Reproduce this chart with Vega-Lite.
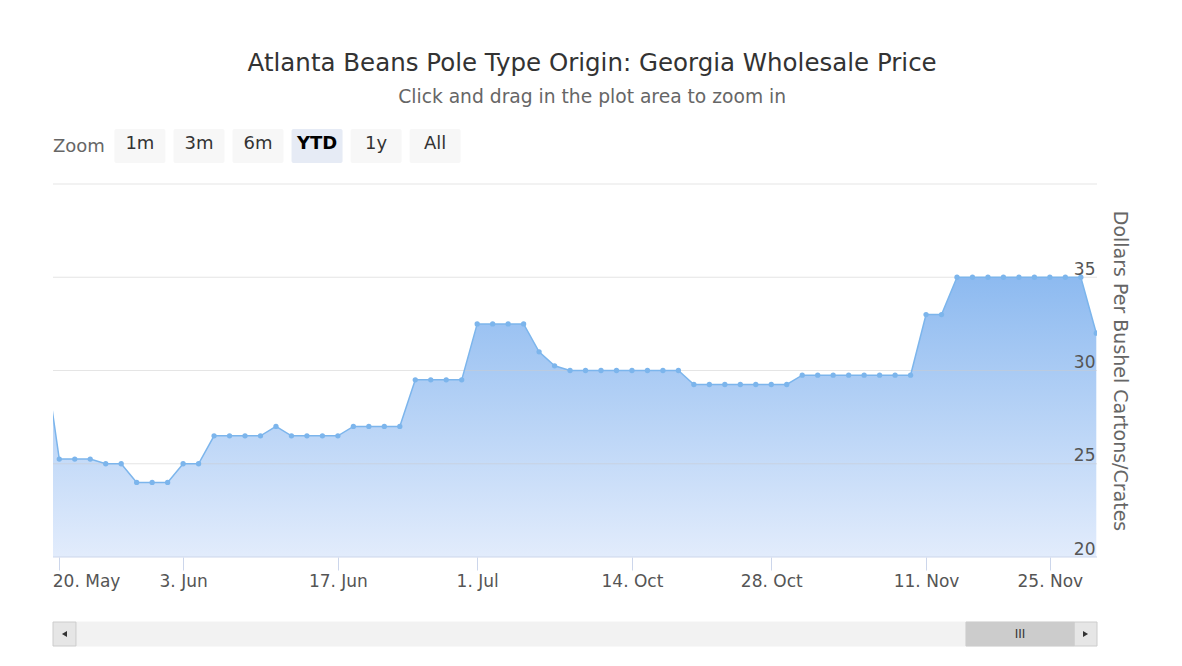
{
  "$schema": "https://vega.github.io/schema/vega-lite/v6.json",
  "background": "white",
  "padding": {"left": 52, "top": 50, "right": 50, "bottom": 18},
  "title": {
    "text": "Atlanta Beans Pole Type Origin: Georgia Wholesale Price",
    "subtitle": "Click and drag in the plot area to zoom in",
    "anchor": "middle",
    "dx": 2,
    "font": "DejaVu Sans",
    "fontSize": 24.5,
    "fontWeight": "normal",
    "color": "#333333",
    "subtitleFont": "DejaVu Sans",
    "subtitleFontSize": 18.7,
    "subtitleColor": "#666666",
    "subtitlePadding": 12,
    "offset": 21
  },
  "config": {"view": {"stroke": null}, "font": "DejaVu Sans"},
  "datasets": {
    "prices": [
      {"date": "2019-05-17", "price": 31},
      {"date": "2019-05-20", "price": 25.25},
      {"date": "2019-05-21", "price": 25.25},
      {"date": "2019-05-22", "price": 25.25},
      {"date": "2019-05-23", "price": 25},
      {"date": "2019-05-24", "price": 25},
      {"date": "2019-05-28", "price": 24},
      {"date": "2019-05-29", "price": 24},
      {"date": "2019-05-31", "price": 24},
      {"date": "2019-06-03", "price": 25},
      {"date": "2019-06-04", "price": 25},
      {"date": "2019-06-05", "price": 26.5},
      {"date": "2019-06-06", "price": 26.5},
      {"date": "2019-06-07", "price": 26.5},
      {"date": "2019-06-10", "price": 26.5},
      {"date": "2019-06-11", "price": 27},
      {"date": "2019-06-12", "price": 26.5},
      {"date": "2019-06-13", "price": 26.5},
      {"date": "2019-06-14", "price": 26.5},
      {"date": "2019-06-17", "price": 26.5},
      {"date": "2019-06-18", "price": 27},
      {"date": "2019-06-19", "price": 27},
      {"date": "2019-06-20", "price": 27},
      {"date": "2019-06-21", "price": 27},
      {"date": "2019-06-24", "price": 29.5},
      {"date": "2019-06-25", "price": 29.5},
      {"date": "2019-06-26", "price": 29.5},
      {"date": "2019-06-28", "price": 29.5},
      {"date": "2019-07-01", "price": 32.5},
      {"date": "2019-07-02", "price": 32.5},
      {"date": "2019-07-03", "price": 32.5},
      {"date": "2019-07-05", "price": 32.5},
      {"date": "2019-10-04", "price": 31},
      {"date": "2019-10-07", "price": 30.25},
      {"date": "2019-10-08", "price": 30},
      {"date": "2019-10-09", "price": 30},
      {"date": "2019-10-10", "price": 30},
      {"date": "2019-10-11", "price": 30},
      {"date": "2019-10-14", "price": 30},
      {"date": "2019-10-16", "price": 30},
      {"date": "2019-10-17", "price": 30},
      {"date": "2019-10-18", "price": 30},
      {"date": "2019-10-21", "price": 29.25},
      {"date": "2019-10-22", "price": 29.25},
      {"date": "2019-10-23", "price": 29.25},
      {"date": "2019-10-24", "price": 29.25},
      {"date": "2019-10-25", "price": 29.25},
      {"date": "2019-10-28", "price": 29.25},
      {"date": "2019-10-29", "price": 29.25},
      {"date": "2019-10-30", "price": 29.75},
      {"date": "2019-10-31", "price": 29.75},
      {"date": "2019-11-01", "price": 29.75},
      {"date": "2019-11-04", "price": 29.75},
      {"date": "2019-11-05", "price": 29.75},
      {"date": "2019-11-06", "price": 29.75},
      {"date": "2019-11-07", "price": 29.75},
      {"date": "2019-11-08", "price": 29.75},
      {"date": "2019-11-11", "price": 33},
      {"date": "2019-11-12", "price": 33},
      {"date": "2019-11-13", "price": 35},
      {"date": "2019-11-14", "price": 35},
      {"date": "2019-11-15", "price": 35},
      {"date": "2019-11-18", "price": 35},
      {"date": "2019-11-19", "price": 35},
      {"date": "2019-11-20", "price": 35},
      {"date": "2019-11-25", "price": 35},
      {"date": "2019-11-26", "price": 35},
      {"date": "2019-11-27", "price": 35},
      {"date": "2019-11-29", "price": 32}
    ],
    "gridlines": [
      {"level": 20},
      {"level": 25},
      {"level": 30},
      {"level": 35},
      {"level": 40}
    ],
    "buttons": [
      {"label": "Zoom", "kind": "caption"},
      {"label": "1m", "kind": "button"},
      {"label": "3m", "kind": "button"},
      {"label": "6m", "kind": "button"},
      {"label": "YTD", "kind": "selected"},
      {"label": "1y", "kind": "button"},
      {"label": "All", "kind": "button"}
    ],
    "scrollbar": [
      {"part": "track", "from": 0.022, "to": 0.978, "glyph": ""},
      {"part": "left", "from": 0, "to": 0.022, "glyph": ""},
      {"part": "right", "from": 0.978, "to": 1, "glyph": ""},
      {"part": "thumb", "from": 0.8745, "to": 0.978, "glyph": "III"}
    ]
  },
  "spacing": 21,
  "bounds": "flush",
  "vconcat": [
    {
      "width": 410,
      "height": 34,
      "data": {"name": "buttons"},
      "encoding": {
        "x": {"field": "label", "type": "nominal", "sort": null,
              "scale": {"type": "band", "domain": ["Zoom", "1m", "3m", "6m", "YTD", "1y", "All"], "paddingInner": 0.136, "paddingOuter": 0.04},
              "axis": null}
      },
      "layer": [
        {
          "transform": [{"filter": "datum.kind != 'caption'"}],
          "mark": {"type": "rect", "cornerRadius": 2},
          "encoding": {
            "color": {"condition": {"test": "datum.kind == 'selected'", "value": "#e6ebf5"}, "value": "#f7f7f7"}
          }
        },
        {
          "transform": [{"filter": "datum.kind == 'button'"}],
          "mark": {"type": "text", "font": "DejaVu Sans", "fontSize": 18, "color": "#333333", "baseline": "middle", "dy": -2},
          "encoding": {"text": {"field": "label"}}
        },
        {
          "transform": [{"filter": "datum.kind == 'selected'"}],
          "mark": {"type": "text", "font": "DejaVu Sans", "fontSize": 18, "fontWeight": "bold", "color": "#000000", "baseline": "middle", "dy": -2},
          "encoding": {"text": {"field": "label"}}
        },
        {
          "transform": [{"filter": "datum.kind == 'caption'"}],
          "mark": {"type": "text", "font": "DejaVu Sans", "fontSize": 18, "color": "#666666", "baseline": "middle", "dy": 1, "dx": -2},
          "encoding": {"text": {"field": "label"}}
        }
      ]
    },
    {
      "width": 1044,
      "height": 373,
      "layer": [
        {
          "data": {"name": "prices"},
          "mark": {
            "type": "area", "clip": true,
            "color": {
              "gradient": "linear", "x1": 0, "y1": 0, "x2": 0, "y2": 1,
              "stops": [
                {"offset": 0, "color": "#8dbaf0"},
                {"offset": 1, "color": "#e2ecfc"}
              ]
            }
          },
          "encoding": {
            "x": {
              "field": "date", "type": "ordinal", "sort": null,
              "scale": {"type": "point", "range": [-9.2, 1043.3], "padding": 0},
              "axis": {
                "title": null,
                "zindex": 1,
                "values": ["2019-05-20", "2019-06-03", "2019-06-17", "2019-07-01", "2019-10-14", "2019-10-28", "2019-11-11", "2019-11-25"],
                "labelExpr": "utcFormat(toDate(datum.value), '%-d. %b')",
                "labelAngle": 0,
                "labelFont": "DejaVu Sans",
                "labelFontSize": 17,
                "labelColor": "#555555",
                "labelBaseline": "alphabetic",
                "labelPadding": 16,
                "labelFlush": false,
                "labelAlign": {"condition": {"test": "datum.value == '2019-05-20'", "value": "left"}, "value": "center"},
                "labelOffset": {"condition": {"test": "datum.value == '2019-05-20'", "value": -7}, "value": 0},
                "tickColor": "#ccd6eb",
                "tickSize": 13,
                "domain": false,
                "grid": false
              }
            },
            "y": {
              "field": "price", "type": "quantitative",
              "scale": {"domain": [20, 40], "nice": false, "zero": false},
              "axis": {
                "orient": "right",
                "zindex": 1,
                "title": "Dollars Per Bushel Cartons/Crates",
                "titleFont": "DejaVu Sans",
                "titleFontSize": 19,
                "titleFontWeight": "normal",
                "titleColor": "#666666",
                "titlePadding": 12,
                "values": [20, 25, 30, 35, 40],
                "labelExpr": "datum.value == 40 ? '' : datum.label",
                "labelFont": "DejaVu Sans",
                "labelFontSize": 17,
                "labelColor": "#555555",
                "labelAlign": "right",
                "labelBaseline": "alphabetic",
                "labelPadding": -2,
                "labelOffset": -3,
                "ticks": false,
                "tickSize": 0,
                "domain": false,
                "grid": false
              }
            },
            "y2": {"datum": 20}
          }
        },
        {
          "data": {"name": "gridlines"},
          "mark": {"type": "rule", "strokeWidth": 1},
          "encoding": {
            "y": {"field": "level", "type": "quantitative"},
            "color": {"condition": {"test": "datum.level == 20", "value": "#ccd6eb"}, "value": "#cccccc"},
            "opacity": {"condition": {"test": "datum.level == 20", "value": 1}, "value": 0.5}
          }
        },
        {
          "data": {"name": "prices"},
          "mark": {"type": "line", "clip": true, "color": "#7cb5ec", "strokeWidth": 1.5},
          "encoding": {
            "x": {"field": "date", "type": "ordinal", "sort": null},
            "y": {"field": "price", "type": "quantitative"}
          }
        },
        {
          "data": {"name": "prices"},
          "mark": {"type": "point", "clip": true, "filled": true, "color": "#7cb5ec", "opacity": 1, "size": 28},
          "encoding": {
            "x": {"field": "date", "type": "ordinal", "sort": null},
            "y": {"field": "price", "type": "quantitative"}
          }
        }
      ]
    },
    {
      "width": 1044,
      "height": 68,
      "data": {"name": "scrollbar"},
      "transform": [{"calculate": "(datum.from + datum.to) / 2", "as": "mid"}],
      "encoding": {
        "y": {"datum": "scrollbar", "type": "nominal",
              "scale": {"type": "band", "domain": ["scrollbar"], "paddingInner": 0, "paddingOuter": 0.9167, "align": 1},
              "axis": null}
      },
      "layer": [
        {
          "mark": {"type": "rect", "strokeWidth": 1},
          "encoding": {
            "x": {"field": "from", "type": "quantitative", "scale": {"domain": [0, 1], "nice": false, "zero": false}, "axis": null},
            "x2": {"field": "to"},
            "color": {"field": "part", "type": "nominal",
                      "scale": {"domain": ["track", "left", "right", "thumb"], "range": ["#f2f2f2", "#e6e6e6", "#e6e6e6", "#cccccc"]},
                      "legend": null},
            "stroke": {"field": "part", "type": "nominal",
                      "scale": {"domain": ["track", "left", "right", "thumb"], "range": ["#f2f2f2", "#cccccc", "#cccccc", "#cccccc"]},
                      "legend": null}
          }
        },
        {
          "transform": [{"filter": "datum.part == 'left' || datum.part == 'right'"}],
          "mark": {"type": "point", "filled": true, "color": "#333333", "opacity": 1, "size": 34},
          "encoding": {
            "x": {"field": "mid", "type": "quantitative"},
            "shape": {"field": "part", "type": "nominal",
                      "scale": {"domain": ["left", "right"], "range": ["triangle-left", "triangle-right"]},
                      "legend": null}
          }
        },
        {
          "transform": [{"filter": "datum.part == 'thumb'"}],
          "mark": {"type": "text", "font": "DejaVu Sans", "fontSize": 12, "color": "#333333", "baseline": "middle"},
          "encoding": {
            "x": {"field": "mid", "type": "quantitative"},
            "text": {"field": "glyph"}
          }
        }
      ]
    }
  ]
}
